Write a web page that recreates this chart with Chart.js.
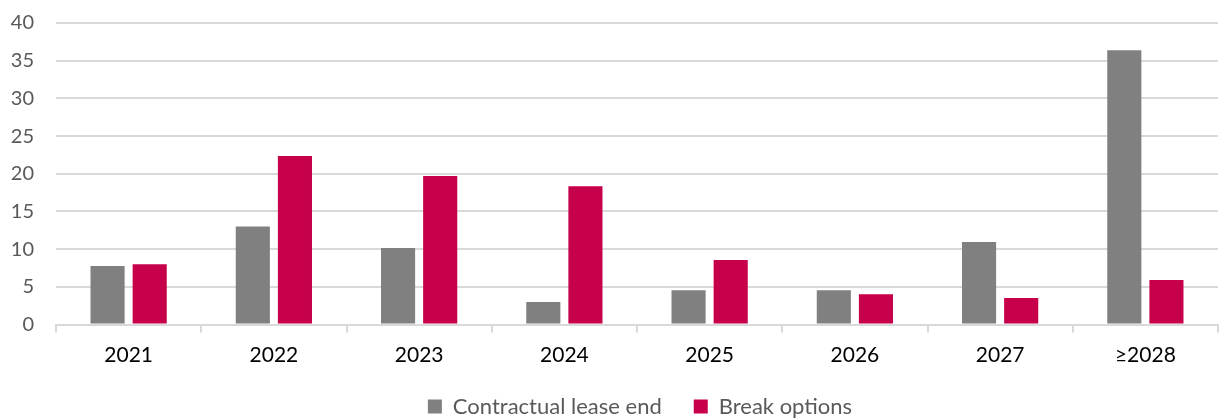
<!DOCTYPE html>
<html>
<head>
<meta charset="utf-8">
<script src="https://cdn.jsdelivr.net/npm/chart.js@4"></script>
<style>
  html, body { margin: 0; padding: 0; background: #fff; }
  #wrap { width: 1231px; height: 418px; }
</style>
</head>
<body>
<div id="wrap"><canvas id="bar-chart" width="1231" height="418"></canvas></div>
<script>
let years = ["2021", "2022", "2023", "2024", "2025", "2026", "2027", "\u22652028"];
let leaseEnd = [7.75, 13.0, 10.15, 3.0, 4.55, 4.55, 10.95, 36.4];
let breakOptions = [8.0, 22.35, 19.7, 18.35, 8.55, 4.0, 3.5, 5.9];
let yTicks = [0, 5, 10, 15, 20, 25, 30, 35, 40];

let fontName = "Lato";

// legend sits centred under the plot area rather than the whole canvas
const shiftLegend = {
    id: "shiftLegend",
    afterLayout(chart) {
        chart.legend.left += 31;
        chart.legend.right += 31;
    }
};

let ctxBar = document.getElementById('bar-chart').getContext('2d');
let chart = new Chart(ctxBar, {
    type: "bar",
    data: {
        labels: years,
        datasets: [{
            label: "Contractual lease end",
            data: leaseEnd,
            backgroundColor: "#808080",
            categoryPercentage: 0.58,
            barPercentage: 0.81
        }, {
            label: "Break options",
            data: breakOptions,
            backgroundColor: "#C7004C",
            categoryPercentage: 0.58,
            barPercentage: 0.81
        }]
    },
    options: {
        responsive: false,
        animation: false,
        layout: { padding: { top: 23, right: 13, left: 0, bottom: -9.5 } },
        plugins: {
            tooltip: { enabled: false },
            legend: {
                position: "bottom",
                labels: {
                    boxWidth: 14,
                    boxHeight: 14,
                    padding: 32,
                    color: "#595959",
                    font: { family: fontName, size: 22 }
                }
            }
        },
        scales: {
            x: {
                afterFit: axis => { axis.height = 39; },
                grid: {
                    offset: true,
                    drawOnChartArea: false,
                    color: "#d9d9d9",
                    lineWidth: 2,
                    tickLength: 8
                },
                border: { color: "#d9d9d9", width: 2 },
                ticks: {
                    color: "#000",
                    padding: 10,
                    font: { family: fontName, size: 21 }
                }
            },
            y: {
                min: yTicks[0],
                max: yTicks[yTicks.length - 1],
                afterBuildTicks: axis => { axis.ticks = yTicks.map(v => ({ value: v })); },
                afterFit: axis => {
                    axis.width = 56;
                    axis.paddingTop = 0;
                    axis.paddingBottom = 0;
                },
                grid: {
                    color: "#d9d9d9",
                    lineWidth: 2,
                    drawTicks: false
                },
                border: { display: false },
                ticks: {
                    color: "#595959",
                    padding: 22,
                    font: { family: fontName, size: 20 }
                }
            }
        }
    },
    plugins: [shiftLegend]
});
</script>
</body>
</html>
